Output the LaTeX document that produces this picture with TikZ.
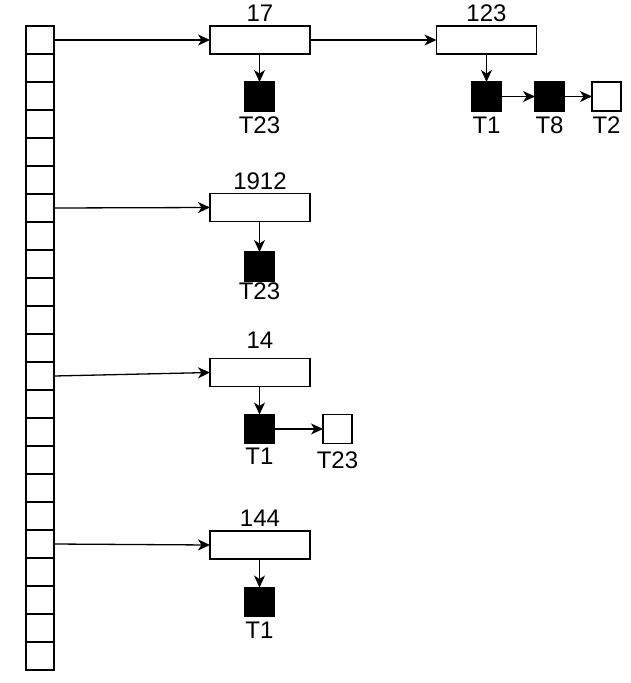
\documentclass[tikz,border=0pt]{standalone}
\usepackage{fontspec}
\setmainfont{Liberation Sans}
\usetikzlibrary{arrows.meta}
\begin{document}
\begin{tikzpicture}[x=1pt,y=-1pt,
  cell/.style={draw,line width=1.3pt,minimum width=28pt,minimum height=28pt,inner sep=0pt,outer sep=0pt},
  keybox/.style={draw,line width=1.3pt,fill=white,minimum width=100pt,minimum height=28pt,inner sep=0pt,outer sep=0pt},
  fullsq/.style={draw,line width=1.3pt,fill=black,minimum width=29pt,minimum height=29pt,inner sep=0pt,outer sep=0pt},
  emptysq/.style={draw,line width=1.3pt,fill=white,minimum width=29pt,minimum height=29pt,inner sep=0pt,outer sep=0pt},
  lbl/.style={inner sep=0pt,font=\fontsize{24}{26}\selectfont},
  conn/.style={line width=1.3pt,-{Stealth[length=12pt,width=11pt,inset=3.5pt]}}]
\useasboundingbox (0,0) rectangle (631,683);
% column of cells
\foreach \i in {1,...,23} {
  \node[cell] (c\i) at (40,{26+(\i-1)*28+14}) {};
}
% key boxes
\node[keybox] (b17) at (260,40) {};
\node[keybox] (b123) at (486.5,40) {};
\node[keybox] (b1912) at (260,207.5) {};
\node[keybox] (b14) at (260,372.5) {};
\node[keybox] (b144) at (260,545) {};
% key labels
\node[lbl] (l17) at (260,13) {17};
\node[lbl] (l123) at (486.5,13) {123};
\node[lbl] (l1912) at (260,181) {1912};
\node[lbl] (l14) at (260,340) {14};
\node[lbl] (l144) at (260,518) {144};
% squares
\node[fullsq] (s17a) at (259.5,96.5) {};
\node[fullsq] (s123a) at (486.5,96.5) {};
\node[fullsq] (s123b) at (549.5,96.5) {};
\node[emptysq] (s123c) at (606.5,96.5) {};
\node[fullsq] (s1912a) at (259.5,266.5) {};
\node[fullsq] (s14a) at (259.5,429) {};
\node[emptysq] (s14b) at (337.5,429) {};
\node[fullsq] (s144a) at (259.5,602) {};
% square labels
\node[lbl] (t17a) at (259.5,125) {T23};
\node[lbl] (t123a) at (486.5,125) {T1};
\node[lbl] (t123b) at (549.5,125) {T8};
\node[lbl] (t123c) at (606.5,125) {T2};
\node[lbl] (t1912a) at (259.5,291.5) {T23};
\node[lbl] (t14a) at (259.5,456.5) {T1};
\node[lbl] (t14b) at (337.5,460) {T23};
\node[lbl] (t144a) at (259.5,630) {T1};
% connectors
\draw[conn] (c1.east) -- (b17.west);
\draw[conn] (c7.east) -- (b1912.west);
\draw[conn] (c13.east) -- (b14.west);
\draw[conn] (c19.east) -- (b144.west);
\draw[conn] (b17.east) -- (b123.west);
\draw[conn] (b17.south -| s17a) -- (s17a.north);
\draw[conn] (b123.south) -- (s123a.north);
\draw[conn] (s123a.east) -- (s123b.west);
\draw[conn] (s123b.east) -- (s123c.west);
\draw[conn] (b1912.south -| s1912a) -- (s1912a.north);
\draw[conn] (b14.south -| s14a) -- (s14a.north);
\draw[conn] (s14a.east) -- (s14b.west);
\draw[conn] (b144.south -| s144a) -- (s144a.north);
\end{tikzpicture}
\end{document}
